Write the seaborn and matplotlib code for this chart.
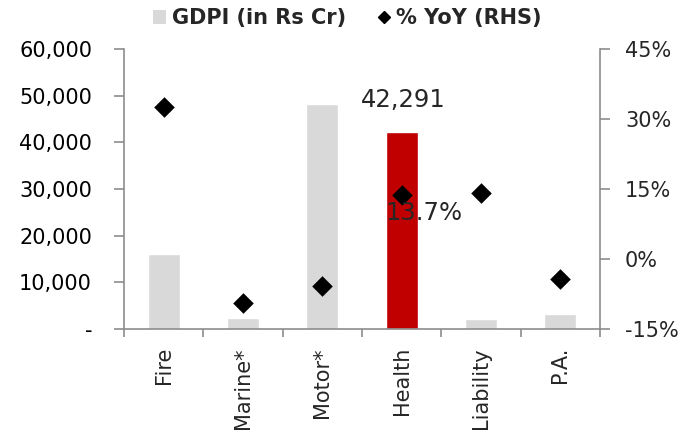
import matplotlib
matplotlib.use("Agg")
import matplotlib.pyplot as plt
from matplotlib.lines import Line2D
from matplotlib.patches import Patch
from matplotlib.ticker import FuncFormatter, FixedLocator
import seaborn as sns
import pandas as pd

categories = ["Fire", "Marine*", "Motor*", "Health", "Liability", "P.A."]
gdpi = [16000, 2400, 48200, 42291, 2200, 3200]
yoy = [32.6, -9.4, -5.8, 13.7, 14.2, -4.3]
bar_colors = ["#D9D9D9", "#D9D9D9", "#D9D9D9", "#C00000", "#D9D9D9", "#D9D9D9"]

df = pd.DataFrame({"cat": categories, "gdpi": gdpi, "yoy": yoy})

sns.set_theme(style="white")
plt.rcParams["font.family"] = ["DejaVu Sans"]

spine_col = "#8C8C8C"
fig = plt.figure(figsize=(6.93, 4.37), dpi=100)
ax = fig.add_axes([124 / 693, 1 - 329 / 437, 476 / 693, 280 / 437])

sns.barplot(data=df, x="cat", y="gdpi", hue="cat", palette=bar_colors,
            width=0.4, legend=False, ax=ax, saturation=1)
ax.set_xlim(-0.5, 5.5)
ax.set_ylim(0, 60000)
ax.set_yticks(range(0, 60001, 10000))
ax.yaxis.set_major_formatter(FuncFormatter(lambda v, p: "-" if v == 0 else f"{int(v):,}"))
ax.set_xlabel("")
ax.set_ylabel("")
ax.tick_params(axis="y", labelsize=15, length=7, width=1.2, color=spine_col,
               direction="out", left=True, pad=16, labelcolor="black")
ax.tick_params(axis="x", which="major", length=0, labelsize=15, rotation=90, pad=13)
ax.xaxis.set_minor_locator(FixedLocator([i - 0.5 for i in range(7)]))
ax.tick_params(axis="x", which="minor", length=6, width=1.2, color=spine_col,
               direction="out", bottom=True)
for s in ["left", "bottom"]:
    ax.spines[s].set_color(spine_col)
    ax.spines[s].set_linewidth(1.2)
ax.spines["top"].set_visible(False)
ax.spines["right"].set_visible(False)

ax2 = ax.twinx()
sns.scatterplot(data=df, x="cat", y="yoy", marker="D", color="black", s=110,
                edgecolor="black", linewidth=0, ax=ax2, zorder=5)
ax2.set_ylim(-15, 45)
ax2.set_yticks(range(-15, 46, 15))
ax2.yaxis.set_major_formatter(FuncFormatter(lambda v, p: f"{int(v)}%"))
ax2.set_ylabel("")
ax2.tick_params(axis="y", labelsize=15, length=7, width=1.2, color=spine_col,
                direction="out", right=True, pad=11)
for s in ["top", "left", "bottom"]:
    ax2.spines[s].set_visible(False)
ax2.spines["right"].set_color(spine_col)
ax2.spines["right"].set_linewidth(1.2)

# value labels for Health
hi = categories.index("Health")
ax.annotate(f"{gdpi[hi]:,}", (hi, gdpi[hi]), xytext=(1, 14), textcoords="offset points",
            ha="center", va="bottom", fontsize=17.5)
ax2.annotate(f"{yoy[hi]}%", (hi, yoy[hi]), xytext=(16, -13), textcoords="offset points",
             ha="center", va="center", fontsize=17.5, zorder=6)

handles = [Patch(facecolor="#D9D9D9", edgecolor="none"),
           Line2D([], [], marker="D", color="black", linestyle="none", markersize=6.5)]
fig.legend(handles, ["GDPI (in Rs Cr)", "% YoY (RHS)"], loc="center",
           bbox_to_anchor=(347 / 693, 1 - 18 / 437), ncol=2, frameon=False,
           prop={"weight": "bold", "size": 15}, handlelength=0.65,
           handleheight=0.65, handletextpad=0.25, columnspacing=1.5)

fig.savefig("out.png", dpi=100)
